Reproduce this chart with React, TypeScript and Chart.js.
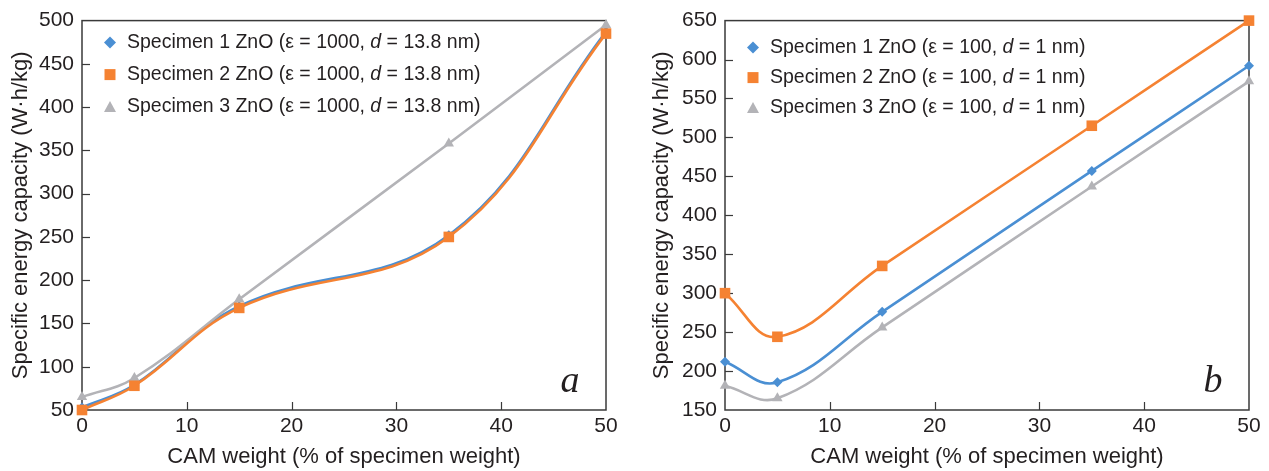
import React, { useEffect, useRef } from "react";
import { Chart, registerables } from "chart.js";

Chart.register(...registerables);

// ---------------- data ----------------
const xValues = [0, 5, 15, 35, 50];

// panel a (ε = 1000, d = 13.8 nm)
const aSpecimen1 = [53, 79, 170, 252, 487];
const aSpecimen2 = [50, 78, 168, 250, 485];
const aSpecimen3 = [65, 87, 178, 358, 495];
const aLegend = [
  "Specimen 1 ZnO (ε = 1000, d = 13.8 nm)",
  "Specimen 2 ZnO (ε = 1000, d = 13.8 nm)",
  "Specimen 3 ZnO (ε = 1000, d = 13.8 nm)",
];

// panel b (ε = 100, d = 1 nm)
const bSpecimen1 = [212, 185.5, 276, 457, 592];
const bSpecimen2 = [300, 244, 335, 515, 650];
const bSpecimen3 = [181, 165, 256, 437, 572];
const bLegend = [
  "Specimen 1 ZnO (ε = 100, d = 1 nm)",
  "Specimen 2 ZnO (ε = 100, d = 1 nm)",
  "Specimen 3 ZnO (ε = 100, d = 1 nm)",
];

const xTitle = "CAM weight (% of specimen weight)";
const yTitle = "Specific energy capacity (W·h/kg)";

// ---------------- styles ----------------
const BLUE = "#4A8FD3";
const ORANGE = "#F58232";
const GRAY = "#B3B3B7";
const TEXT = "#231F20";
const FRAME = "#3A3A3A";
const FONT = "'Liberation Sans', Arial, Helvetica, sans-serif";
const COLORS = [BLUE, ORANGE, GRAY];
const SHAPES = ["diamond", "square", "triangle"];
const LEGEND_SIZE = 19.5;

Chart.defaults.font.family = FONT;

function drawMarker(ctx: CanvasRenderingContext2D, shape: string, x: number, y: number, color: string) {
  ctx.save();
  ctx.fillStyle = color;
  ctx.beginPath();
  if (shape === "diamond") {
    const r = 6;
    ctx.moveTo(x, y - r);
    ctx.lineTo(x + r, y);
    ctx.lineTo(x, y + r);
    ctx.lineTo(x - r, y);
  } else if (shape === "square") {
    const s = 11;
    ctx.rect(x - s / 2, y - s / 2, s, s);
  } else {
    const w = 12;
    const h = 11;
    ctx.moveTo(x, y - h / 2);
    ctx.lineTo(x + w / 2, y + h / 2);
    ctx.lineTo(x - w / 2, y + h / 2);
  }
  ctx.closePath();
  ctx.fill();
  ctx.restore();
}

type PanelCfg = {
  letter: string;
  legend: string[];
  legendTop: number;
  legendGap: number;
};

function makePlugin(cfg: PanelCfg) {
  return {
    id: "panelDecor" + cfg.letter,
    beforeDatasetsDraw(chart: any) {
      const { ctx, chartArea: a, scales } = chart;
      ctx.save();
      ctx.strokeStyle = FRAME;
      ctx.lineWidth = 1.5;
      ctx.strokeRect(a.left, a.top, a.right - a.left, a.bottom - a.top);
      // inward tick marks
      ctx.lineWidth = 1.2;
      const tl = 8;
      const ys = scales.y;
      ys.ticks.forEach((t: any) => {
        if (t.value === ys.min || t.value === ys.max) return;
        const py = Math.round(ys.getPixelForValue(t.value)) + 0.5;
        ctx.beginPath();
        ctx.moveTo(a.left, py);
        ctx.lineTo(a.left + tl, py);
        ctx.stroke();
      });
      const xs = scales.x;
      xs.ticks.forEach((t: any) => {
        if (t.value === xs.min || t.value === xs.max) return;
        const px = Math.round(xs.getPixelForValue(t.value)) + 0.5;
        ctx.beginPath();
        ctx.moveTo(px, a.bottom);
        ctx.lineTo(px, a.bottom - tl);
        ctx.stroke();
      });
      ctx.restore();
    },
    afterDraw(chart: any) {
      const { ctx, chartArea: a } = chart;
      ctx.save();
      // legend
      cfg.legend.forEach((label, i) => {
        const y = a.top + cfg.legendTop + i * cfg.legendGap;
        drawMarker(ctx, SHAPES[i], a.left + 28, y, COLORS[i]);
        const idx = label.indexOf(", d = ");
        const p1 = label.slice(0, idx + 2);
        const p2 = "d";
        const p3 = label.slice(idx + 3);
        let x = a.left + 45;
        ctx.fillStyle = TEXT;
        ctx.textBaseline = "middle";
        ctx.textAlign = "left";
        ctx.font = `${LEGEND_SIZE}px ${FONT}`;
        ctx.fillText(p1, x, y);
        x += ctx.measureText(p1).width;
        ctx.font = `italic ${LEGEND_SIZE}px ${FONT}`;
        ctx.fillText(p2, x, y);
        x += ctx.measureText(p2).width;
        ctx.font = `${LEGEND_SIZE}px ${FONT}`;
        ctx.fillText(p3, x, y);
      });
      // panel letter
      ctx.font = `italic 38px 'Liberation Serif', 'Times New Roman', serif`;
      ctx.textAlign = "center";
      ctx.textBaseline = "alphabetic";
      ctx.fillStyle = TEXT;
      ctx.fillText(cfg.letter, a.right - 36, a.bottom - 18);
      ctx.restore();
    },
  };
}

function dataset(values: number[], i: number) {
  const styles = [
    { pointStyle: "rectRot", pointRadius: 5, order: 3 },
    { pointStyle: "rect", pointRadius: 7.5, order: 1 },
    { pointStyle: "triangle", pointRadius: 6, order: 2 },
  ][i];
  return {
    data: xValues.map((x, k) => ({ x, y: values[k] })),
    borderColor: COLORS[i],
    backgroundColor: COLORS[i],
    pointBackgroundColor: COLORS[i],
    pointBorderWidth: 0,
    borderWidth: 2.6,
    tension: 0.4,
    clip: false as any,
    pointStyle: styles.pointStyle,
    pointRadius: styles.pointRadius,
    order: styles.order,
  };
}

type PanelProps = {
  left: number;
  width: number;
  series: number[][];
  yMin: number;
  yMax: number;
  yAxisWidth: number;
  padRight: number;
  yTitlePad: number;
  cfg: PanelCfg;
};

function Panel(p: PanelProps) {
  const ref = useRef<HTMLCanvasElement | null>(null);
  useEffect(() => {
    if (!ref.current) return;
    const chart = new Chart(ref.current, {
      type: "line",
      data: { datasets: p.series.map((s, i) => dataset(s, i)) as any },
      options: {
        animation: false,
        responsive: false,
        maintainAspectRatio: false,
        layout: { padding: { top: 20, right: p.padRight, bottom: 0, left: 0 } },
        plugins: { legend: { display: false }, tooltip: { enabled: false } },
        scales: {
          x: {
            type: "linear",
            min: 0,
            max: 50,
            ticks: { stepSize: 10, color: TEXT, font: { size: 21 }, padding: 4, maxRotation: 0 },
            grid: { display: false, drawTicks: false },
            border: { display: false },
            title: {
              display: true,
              text: xTitle,
              color: TEXT,
              font: { size: 22 },
              padding: { top: 0, bottom: 1 },
            },
            afterFit: (s: any) => {
              s.height = 61;
            },
          },
          y: {
            type: "linear",
            min: p.yMin,
            max: p.yMax,
            ticks: { stepSize: 50, color: TEXT, font: { size: 21 }, padding: 8 },
            grid: { display: false, drawTicks: false },
            border: { display: false },
            title: {
              display: true,
              text: yTitle,
              color: TEXT,
              font: { size: 22 },
              padding: { top: p.yTitlePad, bottom: 0 },
            },
            afterFit: (s: any) => {
              s.width = p.yAxisWidth;
            },
          },
        },
      } as any,
      plugins: [makePlugin(p.cfg)],
    });
    return () => chart.destroy();
  }, []);
  return (
    <canvas
      ref={ref}
      width={p.width}
      height={471}
      style={{ position: "absolute", left: p.left, top: 0, width: p.width, height: 471 }}
    />
  );
}

export default function App() {
  return (
    <div style={{ position: "absolute", left: 0, top: 0, width: 1269, height: 471, background: "#fff" }}>
      <Panel
        left={0}
        width={640}
        series={[aSpecimen1, aSpecimen2, aSpecimen3]}
        yMin={50}
        yMax={500}
        yAxisWidth={82}
        padRight={34}
        yTitlePad={8}
        cfg={{ letter: "a", legend: aLegend, legendTop: 22, legendGap: 32 }}
      />
      <Panel
        left={640}
        width={629}
        series={[bSpecimen1, bSpecimen2, bSpecimen3]}
        yMin={150}
        yMax={650}
        yAxisWidth={85}
        padRight={20}
        yTitlePad={9}
        cfg={{ letter: "b", legend: bLegend, legendTop: 27, legendGap: 30 }}
      />
    </div>
  );
}
